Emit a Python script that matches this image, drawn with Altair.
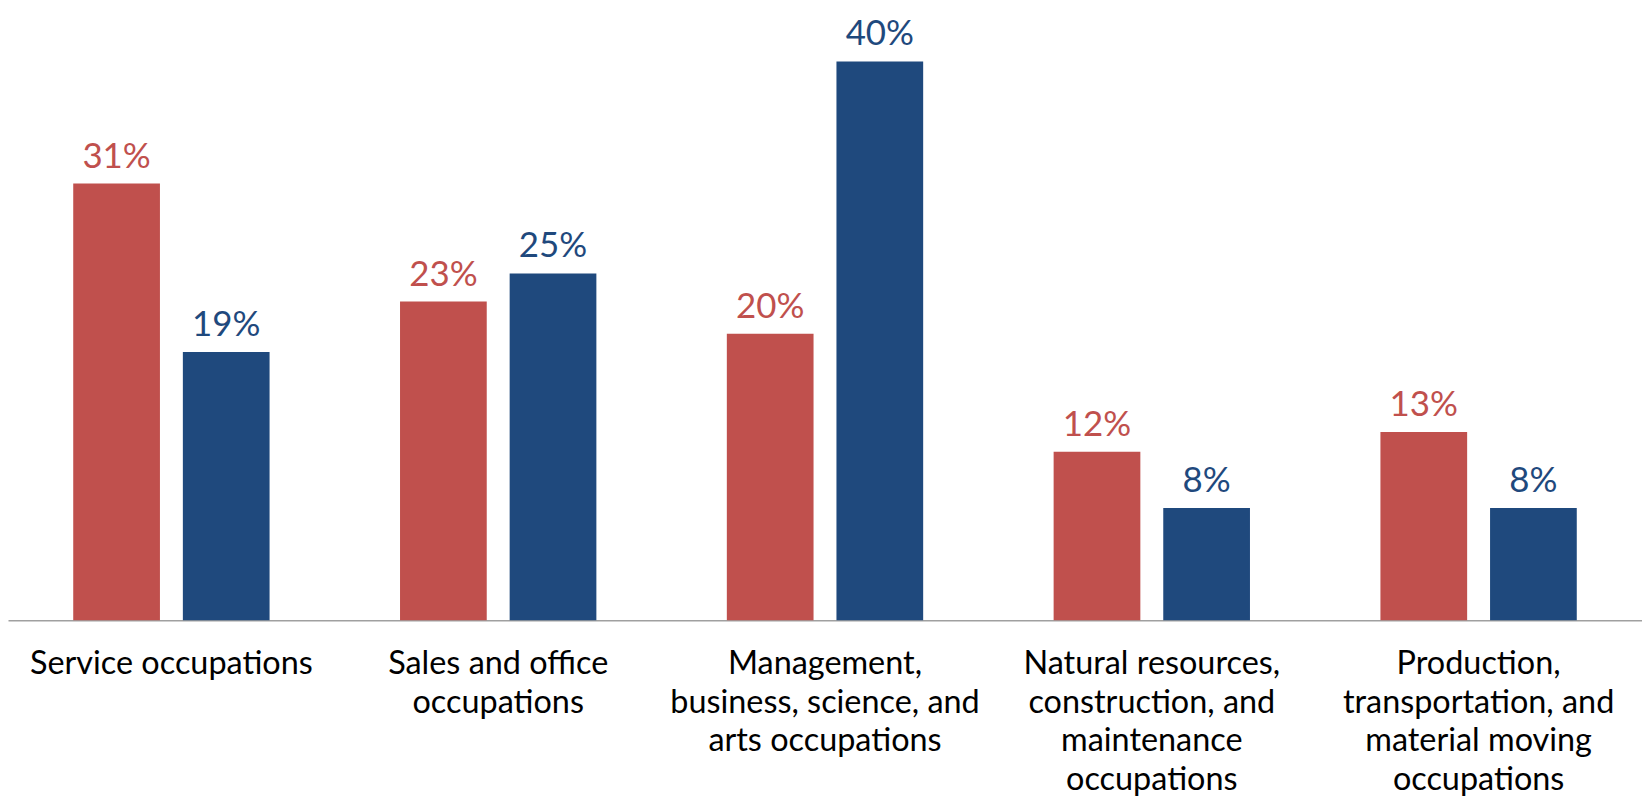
import altair as alt
import pandas as pd

categories = [
    "Service occupations",
    "Sales and office occupations",
    "Management, business, science, and arts occupations",
    "Natural resources, construction, and maintenance occupations",
    "Production, transportation, and material moving occupations",
]
label_lines = [
    ["Service occupations"],
    ["Sales and office", "occupations"],
    ["Management,", "business, science, and", "arts occupations"],
    ["Natural resources,", "construction, and", "maintenance", "occupations"],
    ["Production,", "transportation, and", "material moving", "occupations"],
]
series = ["Series 1", "Series 2"]
series1_values = [31.1, 22.7, 20.4, 12.0, 13.4]
series2_values = [19.1, 24.7, 39.8, 8.0, 8.0]
colors = ["#C0504D", "#1F497D"]

rows = []
for c, v1, v2 in zip(categories, series1_values, series2_values):
    rows.append({"cat": c, "series": series[0], "value": v1})
    rows.append({"cat": c, "series": series[1], "value": v2})
df = pd.DataFrame(rows)

label_expr = ""
for c, lines in zip(categories, label_lines):
    arr = "[" + ",".join("'" + l + "'" for l in lines) + "]"
    label_expr += f"datum.value == '{c}' ? {arr} : "
label_expr += "datum.value"

x_enc = alt.X(
    "cat:N",
    sort=categories,
    scale=alt.Scale(paddingInner=0, paddingOuter=0),
    axis=alt.Axis(
        title=None,
        labelAngle=0,
        labelExpr=label_expr,
        labelFont="Lato",
        labelFontSize=32.5,
        labelColor="#000000",
        labelLineHeight=38.5,
        labelPadding=28,
        labelBaseline="top",
        ticks=False,
        domainColor="#A0A0A0",
        domainWidth=1.5,
        labelLimit=0,
    ),
)
xoff_enc = alt.XOffset(
    "series:N",
    sort=series,
    scale=alt.Scale(paddingInner=0.209, paddingOuter=0.595),
)
y_enc = alt.Y("value:Q", scale=alt.Scale(domain=[0, 43.5], nice=False, zero=True), axis=None)
color_enc = alt.Color("series:N", sort=series, scale=alt.Scale(domain=series, range=colors), legend=None)

bars = alt.Chart(df).mark_bar().encode(x=x_enc, xOffset=xoff_enc, y=y_enc, color=color_enc)

texts = alt.Chart(df).transform_calculate(
    lbl="format(datum.value, '.0f') + '%'"
).mark_text(font="Lato", fontSize=35, baseline="alphabetic", dy=-16).encode(
    x=x_enc, xOffset=xoff_enc, y=y_enc, text="lbl:N", color=color_enc
)

chart = (
    alt.layer(bars, texts)
    .properties(
        width=1640,
        height=613,
        padding={"top": 0, "left": 0, "right": 0, "bottom": 175},
        autosize=alt.AutoSizeParams(type="none"),
        background="white",
    )
    .configure_view(strokeWidth=0, stroke="transparent")
)

chart.save("out.html", embed_options={"renderer": "svg", "actions": False})
